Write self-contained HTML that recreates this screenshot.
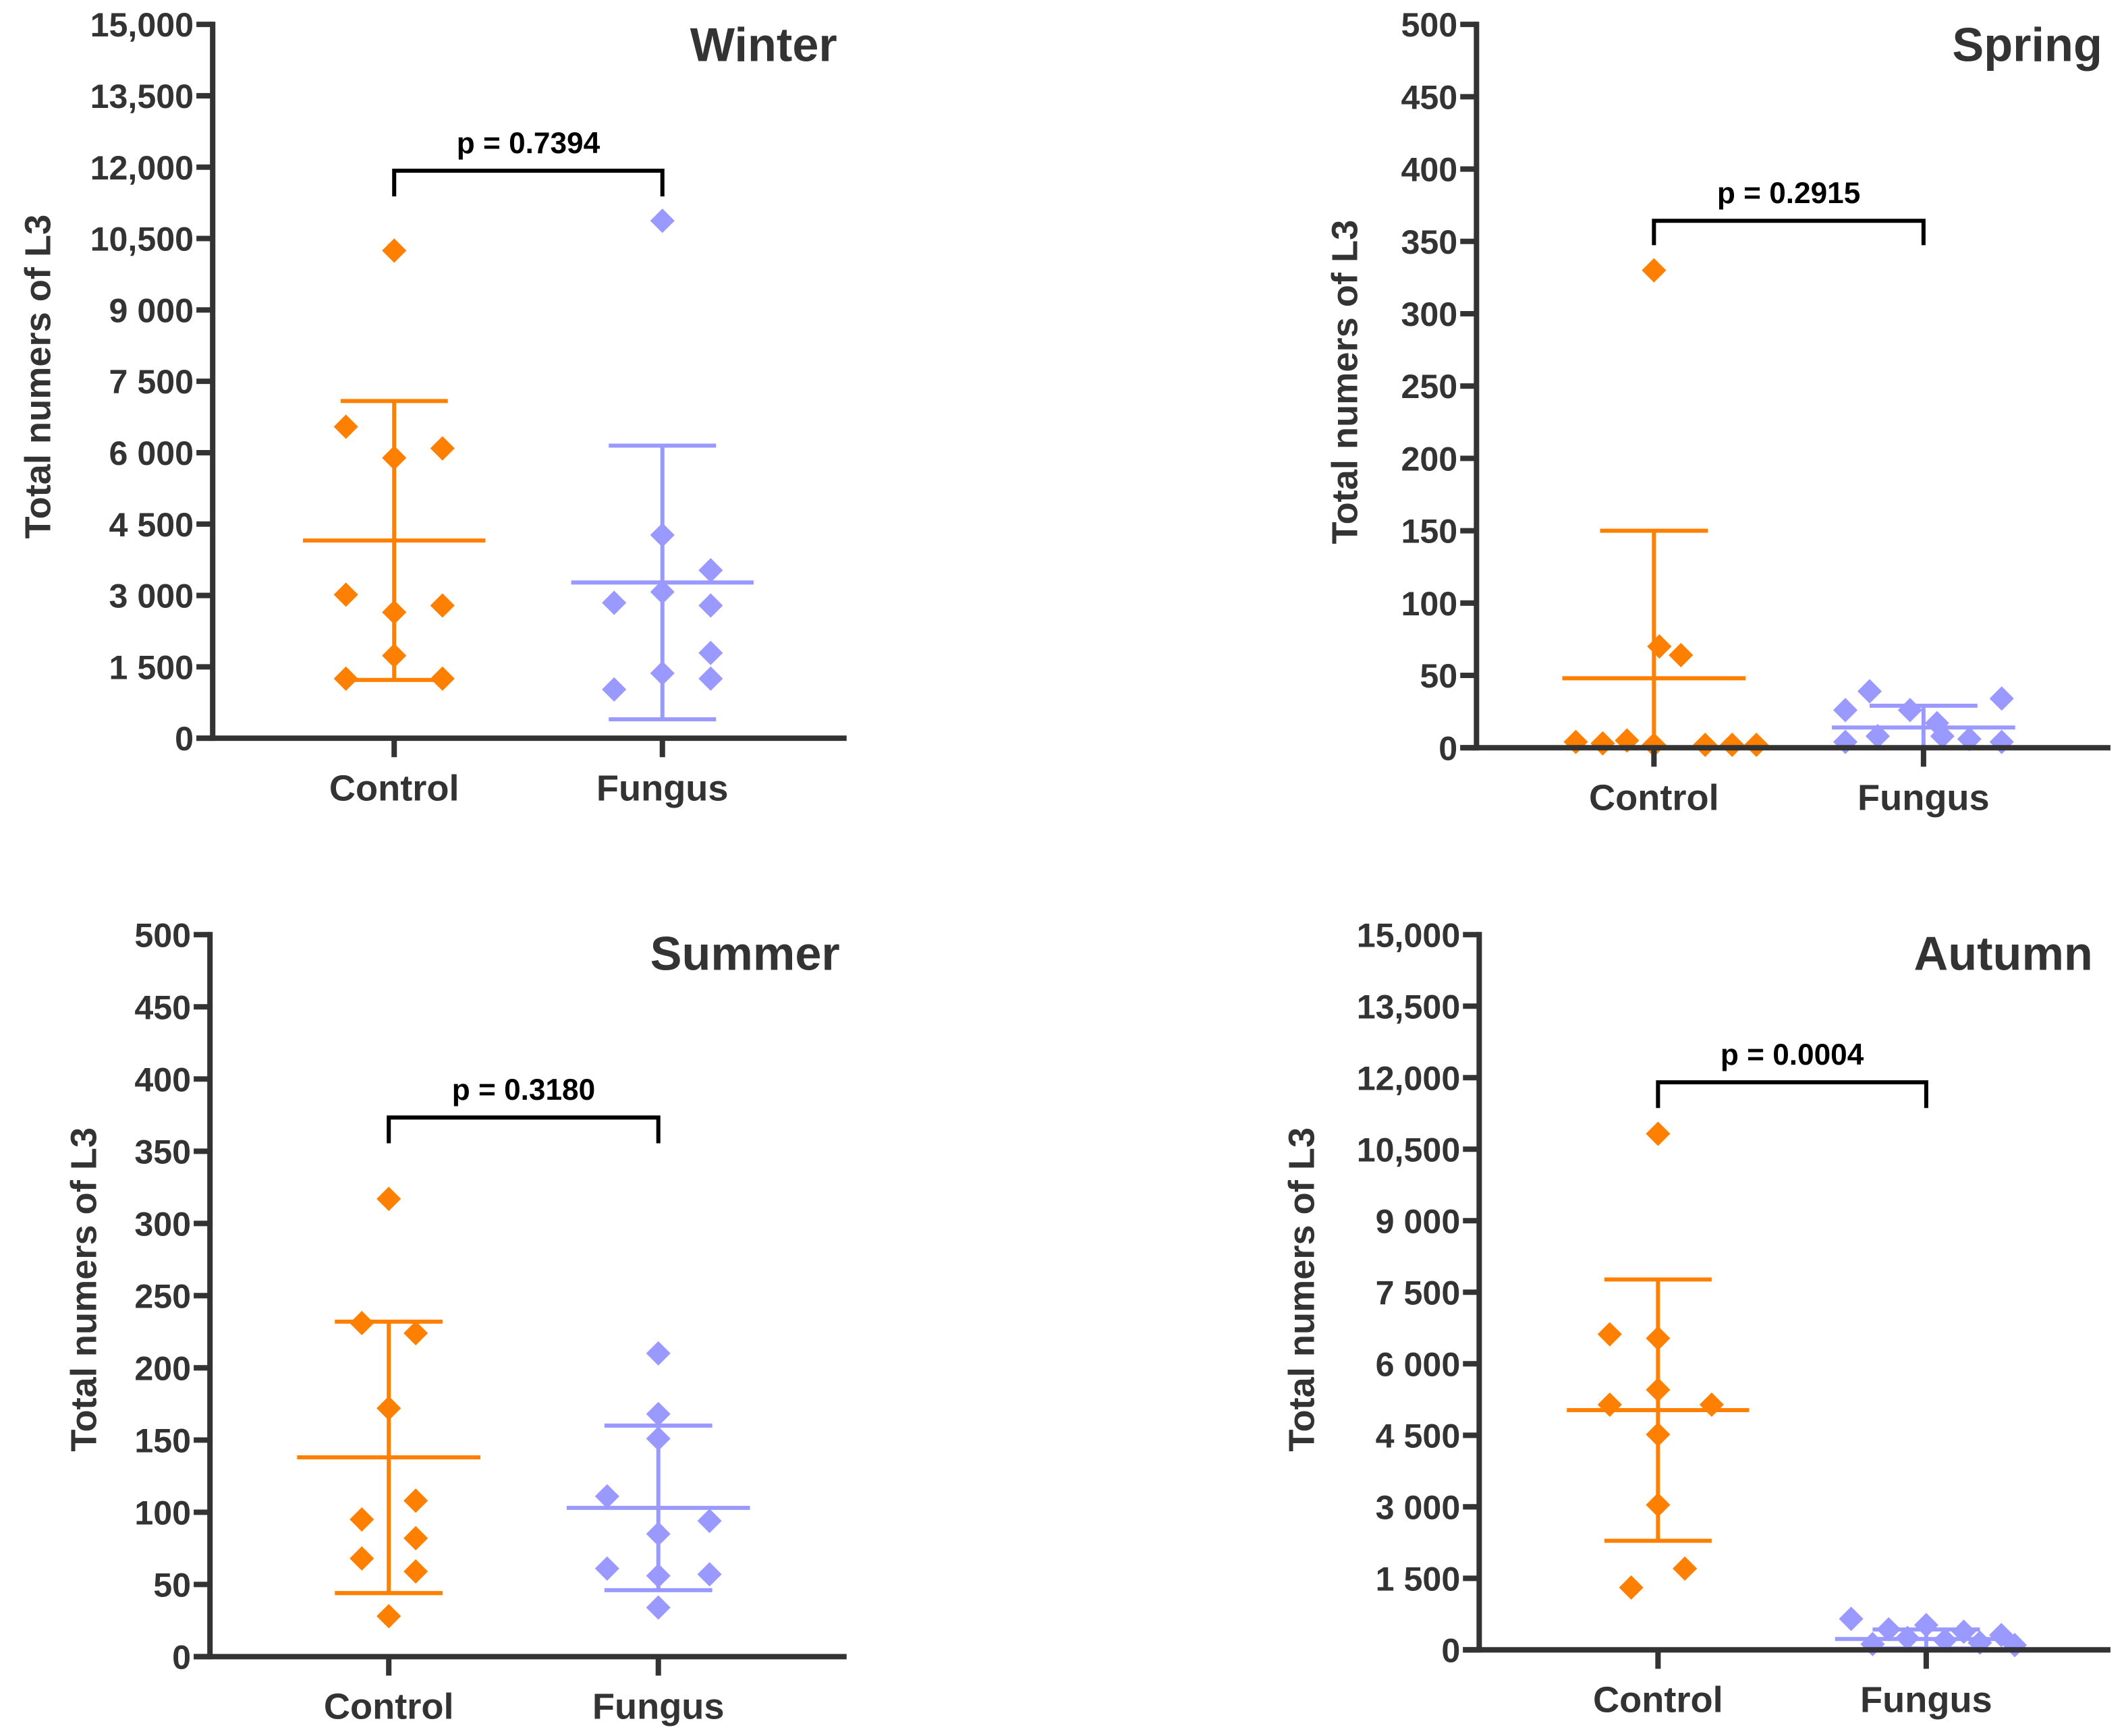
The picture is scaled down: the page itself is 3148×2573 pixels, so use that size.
<!DOCTYPE html>
<html><head><meta charset="utf-8"><style>
html,body{margin:0;padding:0;background:#fff;}
svg{display:block;font-family:"Liberation Sans",Arial,sans-serif;font-weight:bold;}
</style></head><body>
<svg id="fig" width="3148" height="2573" viewBox="0 0 1568 1281.6" xmlns="http://www.w3.org/2000/svg"></svg>
<script>
// ---- data ----
const categories = ["Control","Fungus"];
const seasons = ["Winter","Spring","Summer","Autumn"];
const pValues = ["p = 0.7394","p = 0.2915","p = 0.3180","p = 0.0004"];
const bigTicks = ["0","1 500","3 000","4 500","6 000","7 500","9 000","10,500","12,000","13,500","15,000"];
const bigTickValues = [0,1500,3000,4500,6000,7500,9000,10500,12000,13500,15000];
const smallTicks = ["0","50","100","150","200","250","300","350","400","450","500"];
const smallTickValues = [0,50,100,150,200,250,300,350,400,450,500];

const winterControl = [10247,6546,6091,5892,3017,2789,2647,1736,1252,1252];
const winterControlJit = [0,-0.18,0.18,0,-0.18,0.18,0,0,-0.18,0.18];
const winterFungus = [10873,4269,3529,3074,2846,2789,1793,1366,1252,1025];
const winterFungusJit = [0,0,0.18,0,-0.18,0.18,0.18,0,0.18,-0.18];
const winterMean = [4155,3273];
const winterSD = [2930,2875];

const springControl = [330,70,64,4,3,5,2,2,2,2];
const springControlJit = [0,0.02,0.1,-0.29,-0.19,-0.1,0,0.19,0.29,0.38];
const springFungus = [39,34,26,26,17,8,8,6,4,4];
const springFungusJit = [-0.2,0.29,-0.29,-0.05,0.05,-0.17,0.07,0.17,-0.29,0.29];
const springMean = [48,14];
const springSD = [102,15];

const summerControl = [317,231,224,172,108,95,82,68,59,28];
const summerControlJit = [0,-0.1,0.1,0,0.1,-0.1,0.1,-0.1,0.1,0];
const summerFungus = [210,168,151,111,94,85,61,57,56,34];
const summerFungusJit = [0,0,0,-0.19,0.19,0,-0.19,0.19,0,0];
const summerMean = [138,103];
const summerSD = [94,57];

const autumnControl = [10824,6619,6534,5455,5142,5142,4517,3040,1705,1307];
const autumnControlJit = [0,-0.18,0,0,-0.18,0.2,0,0,0.1,-0.1];
const autumnFungus = [650,520,430,380,310,250,200,150,120,100];
const autumnFungusJit = [-0.28,0,-0.14,0.14,0.28,-0.07,0.07,0.2,-0.2,0.33];
const autumnMean = [5028,227];
const autumnSD = [2740,200];

const colors = ["#FF7F00","#9999FF"];
const NS = "http://www.w3.org/2000/svg";
const svg = document.getElementById("fig");

function mk(tag, attrs, parent){
  const e = document.createElementNS(NS, tag);
  for (const k in attrs) e.setAttribute(k, attrs[k]);
  (parent||svg).appendChild(e);
  return e;
}

const panels = [
  {ax:157, top:18, zero:545, right:625, c0:291, c1:489, ticks:bigTicks, tv:bigTickValues, max:15000,
   ctrl:winterControl, cj:winterControlJit, fung:winterFungus, fj:winterFungusJit, mean:winterMean, sd:winterSD,
   titleX:618, titleY:45, brY:126, brEnd:145, ytX:28, ytY:278},
  {ax:1090, top:18, zero:552, right:1558, c0:1221, c1:1420, ticks:smallTicks, tv:smallTickValues, max:500,
   ctrl:springControl, cj:springControlJit, fung:springFungus, fj:springFungusJit, mean:springMean, sd:springSD,
   titleX:1552, titleY:45, brY:163, brEnd:181, ytX:993, ytY:282},
  {ax:155, top:690, zero:1223, right:625, c0:287, c1:486, ticks:smallTicks, tv:smallTickValues, max:500,
   ctrl:summerControl, cj:summerControlJit, fung:summerFungus, fj:summerFungusJit, mean:summerMean, sd:summerSD,
   titleX:620, titleY:716, brY:825, brEnd:844, ytX:62, ytY:952},
  {ax:1092, top:690, zero:1218, right:1558, c0:1224, c1:1422, ticks:bigTicks, tv:bigTickValues, max:15000,
   ctrl:autumnControl, cj:autumnControlJit, fung:autumnFungus, fj:autumnFungusJit, mean:autumnMean, sd:autumnSD,
   titleX:1545, titleY:716, brY:799, brEnd:818, ytX:961, ytY:952}
];

panels.forEach((p, i) => {
  const g = mk("g", {});
  
  
  const y = v => p.zero - (v / p.max) * (p.zero - p.top);
  const xc = (ci, j) => { const c = ci === 0 ? p.c0 : p.c1; return c + j * (p.c1 - p.c0); };
  const fullW = p.c1 - p.c0;

  [0,1].forEach(ci => {
    const cx = xc(ci, 0);
    const eb = mk("g", {stroke: colors[ci], "stroke-width": 3, fill: "none"}, g);
    
    
    const up = Math.max(0, p.mean[ci] + p.sd[ci]);
    const lo = p.mean[ci] - p.sd[ci];
    mk("line", {x1: cx, x2: cx, y1: y(up), y2: y(Math.max(lo,0))}, eb);
    mk("line", {x1: cx - fullW*0.34, x2: cx + fullW*0.34, y1: y(p.mean[ci]), y2: y(p.mean[ci])}, eb);
    mk("line", {x1: cx - fullW*0.2, x2: cx + fullW*0.2, y1: y(up), y2: y(up)}, eb);
    if (lo > 0) mk("line", {x1: cx - fullW*0.2, x2: cx + fullW*0.2, y1: y(lo), y2: y(lo)}, eb);
  });

  [[p.ctrl, p.cj], [p.fung, p.fj]].forEach((arr, ci) => {
    arr[0].forEach((v, k) => {
      const px = xc(ci, arr[1][k]), py = y(v), s = 9;
      const d = mk("polygon", {points: `${px},${py-s} ${px+s},${py} ${px},${py+s} ${px-s},${py}`, fill: colors[ci]}, g);
      
      
    });
  });

  const axes = mk("g", {stroke: "#333", "stroke-width": 4, fill: "none"}, g);
  
  
  mk("line", {x1: p.ax, x2: p.ax, y1: p.top - 2, y2: p.zero + 2}, axes);
  mk("line", {x1: p.ax - 12, x2: p.right, y1: p.zero, y2: p.zero}, axes);
  p.tv.forEach((v, k) => {
    mk("line", {x1: p.ax - 12, x2: p.ax, y1: y(v), y2: y(v)}, axes);
    const t = mk("text", {x: p.ax - 14, y: y(v) + 9, "text-anchor": "end", "font-size": 25, fill: "#333"}, g);
    t.textContent = p.ticks[k];
    
    
  });
  [0,1].forEach(ci => {
    const cx = xc(ci, 0);
    mk("line", {x1: cx, x2: cx, y1: p.zero, y2: p.zero + 14}, axes);
    const t = mk("text", {x: cx, y: p.zero + 46, "text-anchor": "middle", "font-size": 27, fill: "#333"}, g);
    t.textContent = categories[ci];
    
    
  });

  const yt = mk("text", {x: 0, y: 0, transform: `translate(${p.ytX + 9},${p.ytY}) rotate(-90)`, "text-anchor": "middle", "font-size": 27, fill: "#333"}, g);
  yt.textContent = "Total numers of L3";
  
  

  const tt = mk("text", {x: p.titleX, y: p.titleY, "text-anchor": "end", "font-size": 35, fill: "#333"}, g);
  tt.textContent = seasons[i];
  
  

  const br = mk("polyline", {points: `${p.c0},${p.brEnd} ${p.c0},${p.brY} ${p.c1},${p.brY} ${p.c1},${p.brEnd}`, fill: "none", stroke: "#000", "stroke-width": 3}, g);
  
  
  const pt = mk("text", {x: (p.c0 + p.c1) / 2, y: p.brY - 13, "text-anchor": "middle", "font-size": 22, fill: "#000"}, g);
  pt.textContent = pValues[i];
  
  
});
</script>
</body></html>
